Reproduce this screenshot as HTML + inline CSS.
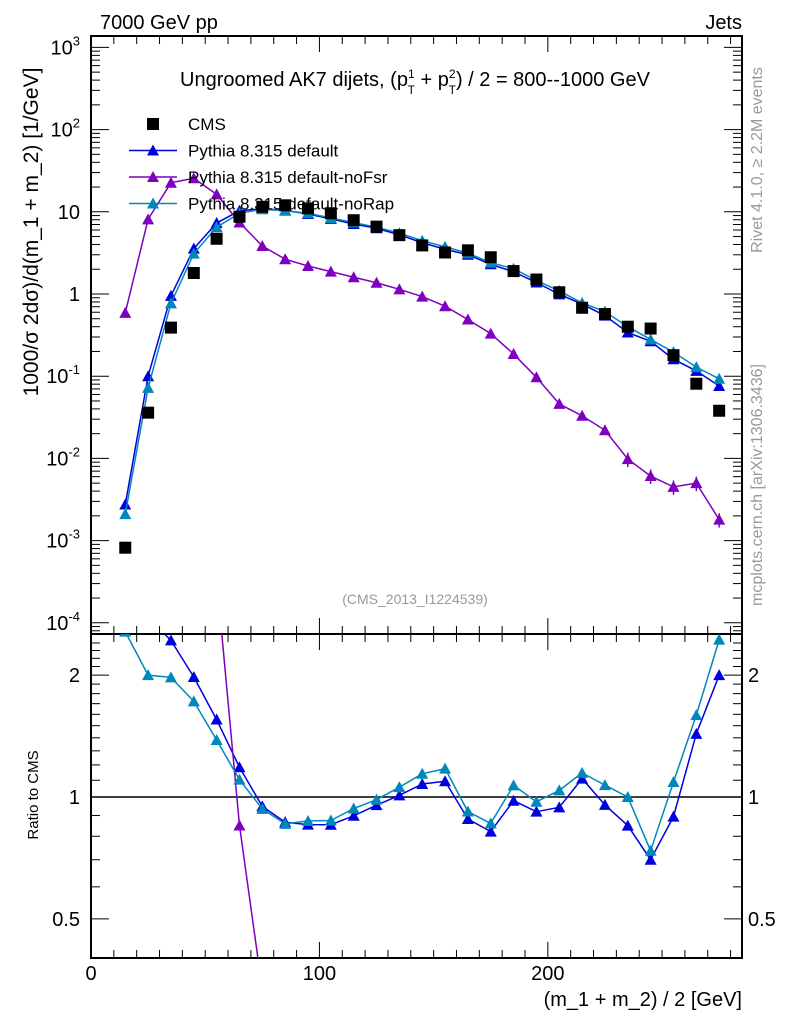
<!DOCTYPE html>
<html><head><meta charset="utf-8"><style>
html,body{margin:0;padding:0;background:#fff;width:786px;height:1024px;overflow:hidden}
svg{display:block;font-family:"Liberation Sans",sans-serif}
</style></head><body>
<svg id="c" width="786" height="1024" viewBox="0 0 786 1024">
<g id="main"></g>
<g id="ratio"></g>
<text x="100" y="29" font-size="20">7000 GeV pp</text>
<text x="742" y="29" font-size="20" text-anchor="end">Jets</text>
<text x="415" y="86" font-size="20" text-anchor="middle">Ungroomed AK7 dijets, (p<tspan dy="-8" font-size="12">1</tspan><tspan dx="-7" dy="16" font-size="12">T</tspan><tspan dy="-8"> + p</tspan><tspan dy="-8" font-size="12">2</tspan><tspan dx="-7" dy="16" font-size="12">T</tspan><tspan dy="-8">) / 2 = 800--1000 GeV</tspan></text>
<text x="415" y="604" font-size="14" fill="#999" text-anchor="middle">(CMS_2013_I1224539)</text>
<text transform="translate(38,232) rotate(-90)" font-size="21" text-anchor="middle">1000/σ   2dσ)/d(m_1 + m_2) [1/GeV]</text>
<text transform="translate(762,160) rotate(-90)" font-size="16" fill="#999" text-anchor="middle">Rivet 4.1.0, ≥ 2.2M events</text>
<text transform="translate(762,485) rotate(-90)" font-size="16" fill="#999" text-anchor="middle">mcplots.cern.ch [arXiv:1306.3436]</text>
<text transform="translate(38,795) rotate(-90)" font-size="15" text-anchor="middle">Ratio to CMS</text>
<text x="742" y="1006" font-size="20" text-anchor="end">(m_1 + m_2) / 2 [GeV]</text>
<g id="legend"></g>
</svg>
<script>
const xs=[15,25,35,45,55,65,75,85,95,105,115,125,135,145,155,165,175,185,195,205,215,225,235,245,255,265,275];
const cms=[8.2e-4,0.036,0.39,1.8,4.7,8.7,11.5,12,11,9.6,7.9,6.6,5.2,3.9,3.2,3.4,2.8,1.9,1.5,1.05,0.68,0.57,0.40,0.38,0.18,0.081,0.038];
const pyDef=[2.75e-3,0.1,0.95,3.56,7.3,10.3,10.9,10.4,9.4,8.2,7.1,6.3,5.25,4.2,3.5,3.0,2.3,1.86,1.38,0.99,0.755,0.545,0.34,0.266,0.161,0.116,0.076];
const pyNoFsr=[0.59,8.1,22.6,25.6,16.3,7.4,3.84,2.65,2.19,1.87,1.6,1.37,1.14,0.93,0.71,0.49,0.33,0.186,0.097,0.046,0.033,0.022,0.0098,0.0061,0.0045,0.005,0.0018];
const pyNoRap=[2.1e-3,0.072,0.77,3.1,6.5,9.6,10.75,10.3,9.6,8.4,7.4,6.5,5.5,4.45,3.76,3.13,2.41,2.03,1.46,1.09,0.78,0.61,0.40,0.28,0.196,0.129,0.093];
const mainTicks=[3,2,1,0,-1,-2,-3,-4];
const ratioTicks=[2,1,0.5];
const xTicks=[0,100,200];

const NS="http://www.w3.org/2000/svg";
const L=91,R=742,MT=36,MB=634,RT=634,RB=958;
const X=v=>L+(v-0)*(R-L)/285;
const Y=v=>294-82.2*Math.log10(v);
const YR=v=>797-405*Math.log10(v);
function el(p,t,a){const e=document.createElementNS(NS,t);for(const k in a)e.setAttribute(k,a[k]);p.appendChild(e);return e;}
const main=document.getElementById('main'),ratio=document.getElementById('ratio'),leg=document.getElementById('legend');

let f=el(main,'rect',{x:L,y:MT,width:R-L,height:MB-MT,fill:'none',stroke:'#000','stroke-width':2});


f=el(ratio,'rect',{x:L,y:RT,width:R-L,height:RB-RT,fill:'none',stroke:'#000','stroke-width':2});



for(let v=0;v<=280;v+=10){
  const big=v%100===0, len=big?16:8, x=X(v);
  for(const [y0,dir] of [[MT,1],[MB,-1],[RT,1],[RB,-1]]){
    el(main,'line',{x1:x,x2:x,y1:y0,y2:y0+dir*len,stroke:'#000','stroke-width':1});
  }
}
xTicks.forEach(v=>{
  const t=el(ratio,'text',{x:X(v),y:980,'font-size':20,'text-anchor':'middle'});
  t.textContent=v;
  
  
});
for(let d=-5;d<=3;d++){
  for(let m=1;m<10;m++){
    const v=m*Math.pow(10,d), y=Y(v);
    if(y<MT||y>MB)continue;
    const len=m===1?18:9;
    el(main,'line',{x1:L,x2:L+len,y1:y,y2:y,stroke:'#000'});
    el(main,'line',{x1:R,x2:R-len,y1:y,y2:y,stroke:'#000'});
  }
}
mainTicks.forEach(e=>{
  const y=Y(Math.pow(10,e));
  const t=el(main,'text',{x:80,y:y+7,'font-size':20,'text-anchor':'end'});
  
  
  if(e===0)t.textContent='1';
  else if(e===1)t.textContent='10';
  else{t.textContent='10';const s=el(t,'tspan',{dy:-9,'font-size':13});s.textContent=e;}
});
for(let v=0.4;v<=2.5;v+=0.1){
  const y=YR(v); if(y<RT||y>RB)continue;
  const big=[0.5,1,2].some(b=>Math.abs(b-v)<1e-6);
  const len=big?18:9;
  el(ratio,'line',{x1:L,x2:L+len,y1:y,y2:y,stroke:'#000'});
  el(ratio,'line',{x1:R,x2:R-len,y1:y,y2:y,stroke:'#000'});
}
ratioTicks.forEach(v=>{
  let t=el(ratio,'text',{x:80,y:YR(v)+7,'font-size':20,'text-anchor':'end'});t.textContent=v;
  
  
  t=el(ratio,'text',{x:748,y:YR(v)+7,'font-size':20});t.textContent=v;
  
  
});
el(ratio,'line',{x1:L,x2:R,y1:YR(1),y2:YR(1),stroke:'#000','stroke-width':1.5});

const defs=el(document.getElementById('c'),'defs',{});
el(el(defs,'clipPath',{id:'cm'}),'rect',{x:L,y:MT,width:R-L,height:MB-MT});
el(el(defs,'clipPath',{id:'cr'}),'rect',{x:L,y:RT,width:R-L,height:RB-RT});

function tri(g,x,y,c){return el(g,'path',{d:`M${x},${y-6}L${x+6},${y+5}L${x-6},${y+5}Z`,fill:c});}

// clip a segment to y range [y0,y1]
function clipSeg(ax,ay,bx,by,y0,y1){
  let t0=0,t1=1;const dy=by-ay;
  const chk=(p,q)=>{if(p===0)return q>=0;const r=q/p;if(p<0){if(r>t1)return false;if(r>t0)t0=r;}else{if(r<t0)return false;if(r<t1)t1=r;}return true;};
  if(!chk(-dy,ay-y0))return null;
  if(!chk(dy,y1-ay))return null;
  return [ax+(bx-ax)*t0,ay+dy*t0,ax+(bx-ax)*t1,ay+dy*t1];
}

const series=[[pyDef,'#0000dd','pythia-default'],[pyNoFsr,'#7f00bf','pythia-nofsr'],[pyNoRap,'#0088bb','pythia-norap']];
series.forEach(([vals,c,name])=>{
  const g=el(main,'g',{'clip-path':'url(#cm)'});
  
  
  el(g,'polyline',{points:xs.map((x,i)=>X(x)+','+Y(vals[i])).join(' '),fill:'none',stroke:c,'stroke-width':1.5});
  xs.forEach((x,i)=>{
    if(name==='pythia-nofsr'&&i>=22){const e=0.2;el(g,'line',{x1:X(x),x2:X(x),y1:Y(vals[i]*(1+e)),y2:Y(vals[i]*(1-e)),stroke:c,'stroke-width':1.5});}
    const p=tri(g,X(x),Y(vals[i]),c);
    
    
  });
});
const gc=el(main,'g',{'clip-path':'url(#cm)'});


xs.forEach((x,i)=>{
  const r=el(gc,'rect',{x:X(x)-6,y:Y(cms[i])-6,width:12,height:12,fill:'#000'});
  
  
});
series.forEach(([vals,c,name])=>{
  const g=el(ratio,'g',{'clip-path':'url(#cr)'});
  
  
  const rv=vals.map((v,i)=>v/cms[i]);
  let d='';
  for(let i=0;i<xs.length-1;i++){
    const s=clipSeg(X(xs[i]),YR(rv[i]),X(xs[i+1]),YR(rv[i+1]),RT,RB);
    if(s)d+=`M${s[0].toFixed(1)},${s[1].toFixed(1)}L${s[2].toFixed(1)},${s[3].toFixed(1)}`;
  }
  if(d)el(g,'path',{d:d,fill:'none',stroke:c,'stroke-width':1.5});
  xs.forEach((x,i)=>{
    const y=YR(rv[i]);
    if(y<RT-6||y>RB+6)return;
    const p=tri(g,X(x),y,c);
    
    
  });
});

const legItems=[['CMS',null,'legend-cms'],['Pythia 8.315 default','#0000dd','legend-default'],['Pythia 8.315 default-noFsr','#7f00bf','legend-nofsr'],['Pythia 8.315 default-noRap','#0088bb','legend-norap']];
legItems.forEach(([lab,c,name],i)=>{
  const y=124+i*26.5;
  const g=el(leg,'g',{});
  
  
  if(c){el(g,'line',{x1:129,x2:177,y1:y,y2:y,stroke:c,'stroke-width':1.5});tri(g,153,y,c);}
  else el(g,'rect',{x:147,y:y-6,width:12,height:12,fill:'#000'});
  const t=el(g,'text',{x:188,y:y+6,'font-size':17});t.textContent=lab;
});
</script>
</body></html>
